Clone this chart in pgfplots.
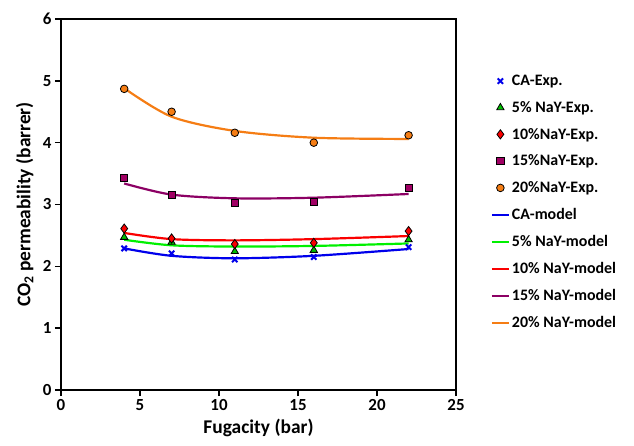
\documentclass[border=0pt]{standalone}
\usepackage{pgfplots}
\pgfplotsset{compat=1.18}
\usepackage{fontspec}
\setmainfont{Carlito}
\definecolor{cblue}{RGB}{0,0,235}
\definecolor{cgreen}{RGB}{0,240,0}
\definecolor{cred}{RGB}{250,0,0}
\definecolor{cpurple}{RGB}{140,0,100}
\definecolor{csq}{RGB}{160,0,100}
\definecolor{corange}{RGB}{245,125,20}
\begin{document}
\begin{tikzpicture}
\useasboundingbox (0,0) rectangle (634bp,446bp);
\begin{axis}[
  at={(61bp,56bp)}, anchor=south west,
  scale only axis, width=395bp, height=371bp,
  xmin=0, xmax=25, ymin=0, ymax=6,
  xtick={0,5,...,25}, ytick={0,1,...,6},
  axis line style={line width=2.2pt},
  tick style={line width=1.6pt, black},
  major tick length=6bp,
  tick align=outside,
  xtick pos=bottom, ytick pos=left,
  /pgf/number format/assume math mode=true,
  tick label style={font=\fontsize{17}{19}\selectfont\bfseries},
  xlabel={Fugacity (bar)},
  ylabel={CO\textsubscript{2} permeability (barrer)},
  label style={font=\fontsize{19.5}{21}\selectfont\bfseries},
  xlabel style={at={(axis description cs:0.5,0)}, anchor=north, yshift=-26bp},
  ylabel style={at={(axis description cs:0,0.5)}, anchor=south, yshift=24bp},
  legend style={at={(1.08,0.86)}, anchor=north west, draw=none, fill=none,
    font=\fontsize{16}{18}\selectfont\bfseries, row sep=10.3bp,
    cells={anchor=west}},
  legend cell align=left,
]
% Experimental
\addplot[only marks, mark=x, mark size=3.8bp, draw=cblue, line width=2pt] coordinates {(4,2.29) (7,2.21) (11,2.11) (16,2.15) (22,2.31)};
\addlegendentry{CA-Exp.}
\addplot[only marks, mark=triangle*, mark size=4.2bp, draw=black, fill=cgreen!80!black, line width=0.8pt] coordinates {(4,2.47) (7,2.39) (11,2.24) (16,2.26) (22,2.43)};
\addlegendentry{5\% NaY-Exp.}
\addplot[only marks, mark=diamond*, mark size=4.6bp, draw=black, fill=cred, line width=0.8pt] coordinates {(4,2.61) (7,2.45) (11,2.36) (16,2.38) (22,2.57)};
\addlegendentry{10\%NaY-Exp.}
\addplot[only marks, mark=square*, mark size=3.6bp, draw=black, fill=csq, line width=0.8pt] coordinates {(4,3.43) (7,3.15) (11,3.02) (16,3.04) (22,3.27)};
\addlegendentry{15\%NaY-Exp.}
\addplot[only marks, mark=*, mark size=3.8bp, draw=black, fill=corange, line width=0.8pt] coordinates {(4,4.87) (7,4.50) (11,4.16) (16,4.00) (22,4.12)};
\addlegendentry{20\%NaY-Exp.}
% Models
\addplot[smooth, no marks, cblue, line width=2.2pt] coordinates {(4,2.29) (7,2.17) (11,2.13) (16,2.17) (22,2.28)};
\addlegendentry{CA-model}
\addplot[smooth, no marks, cgreen, line width=2.2pt] coordinates {(4,2.43) (7,2.34) (11,2.32) (16,2.33) (22,2.37)};
\addlegendentry{5\% NaY-model}
\addplot[smooth, no marks, cred, line width=2.2pt] coordinates {(4,2.54) (7,2.44) (11,2.42) (16,2.44) (22,2.49)};
\addlegendentry{10\% NaY-model}
\addplot[smooth, no marks, cpurple, line width=2.2pt] coordinates {(4,3.34) (7,3.16) (11,3.10) (16,3.11) (22,3.17)};
\addlegendentry{15\% NaY-model}
\addplot[smooth, no marks, corange, line width=2.2pt] coordinates {(4,4.88) (7,4.42) (11,4.19) (16,4.08) (22,4.06)};
\addlegendentry{20\% NaY-model}
\end{axis}
\end{tikzpicture}
\end{document}
